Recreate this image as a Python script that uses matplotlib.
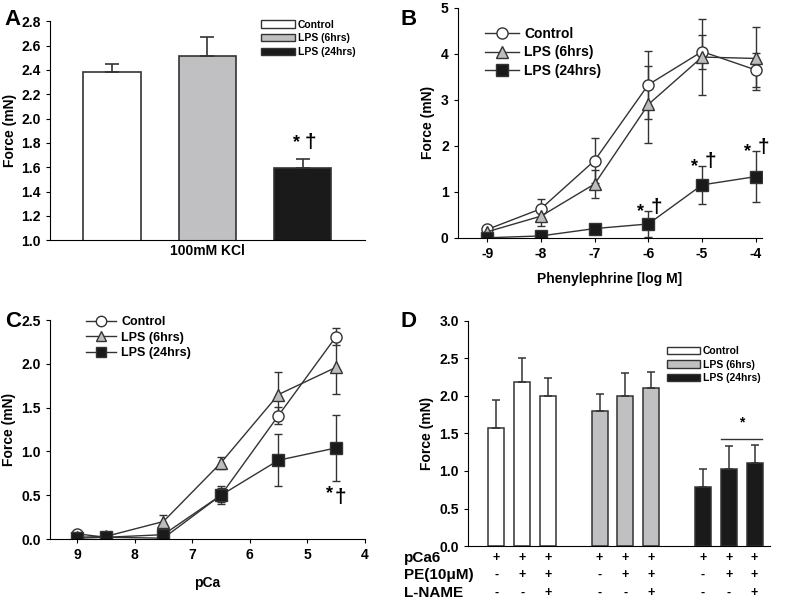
import matplotlib.pyplot as plt
import numpy as np
from matplotlib.patches import Patch
from matplotlib.lines import Line2D

plt.rcParams['font.family'] = ['Liberation Sans', 'DejaVu Sans']
plt.rcParams['font.weight'] = 'bold'
plt.rcParams['axes.labelweight'] = 'bold'
plt.rcParams['axes.unicode_minus'] = False

# panel A
a_groups = ['Control', 'LPS (6hrs)', 'LPS (24hrs)']
a_vals = [2.38, 2.51, 1.59]
a_err = [0.07, 0.16, 0.08]

# panel B
b_x = [-9, -8, -7, -6, -5, -4]
b_ctrl = [0.18, 0.63, 1.68, 3.33, 4.05, 3.65]
b_ctrl_err = [0.03, 0.22, 0.48, 0.74, 0.37, 0.37]
b_lps6 = [0.13, 0.47, 1.17, 2.90, 3.93, 3.90]
b_lps6_err = [0.03, 0.22, 0.30, 0.84, 0.82, 0.68]
b_lps24 = [0.0, 0.04, 0.20, 0.30, 1.15, 1.33]
b_lps24_err = [0.0, 0.02, 0.03, 0.28, 0.42, 0.56]

# panel C
c_x = [9, 8.5, 7.5, 6.5, 5.5, 4.5]
c_ctrl = [0.06, 0.02, 0.01, 0.50, 1.41, 2.31]
c_ctrl_err = [0.01, 0.01, 0.01, 0.08, 0.10, 0.10]
c_lps6 = [0.02, 0.03, 0.20, 0.87, 1.65, 1.96]
c_lps6_err = [0.01, 0.02, 0.08, 0.07, 0.26, 0.30]
c_lps24 = [0.01, 0.02, 0.05, 0.50, 0.90, 1.04]
c_lps24_err = [0.01, 0.01, 0.03, 0.10, 0.30, 0.38]

# panel D
d_ctrl = [1.57, 2.19, 2.00]
d_ctrl_err = [0.38, 0.31, 0.24]
d_lps6 = [1.80, 2.00, 2.10]
d_lps6_err = [0.22, 0.30, 0.22]
d_lps24 = [0.78, 1.03, 1.10]
d_lps24_err = [0.24, 0.30, 0.24]
d_rows = ['pCa6', 'PE(10\u03bcM)', 'L-NAME']
d_signs = [['+', '+', '+'], ['-', '+', '+'], ['-', '-', '+']]

colors = ['white', '#c0c0c2', '#1a1a1a']
fs = 10

fig = plt.figure(figsize=(7.85, 6.05), dpi=100)

def style(ax):
    for s in ['top', 'right']:
        ax.spines[s].set_visible(False)
    ax.tick_params(direction='out', length=3, labelsize=fs, width=0.8)
    for lab in ax.get_xticklabels() + ax.get_yticklabels():
        lab.set_fontweight('bold')

# ---- A
axA = fig.add_axes([0.0637, 0.603, 0.401, 0.362])
pos = np.arange(3)
axA.bar(pos, a_vals, width=0.6, color=colors, edgecolor='#333333', linewidth=1.2,
        yerr=[[0, 0, 0], a_err], error_kw=dict(ecolor='#333333', capsize=5, elinewidth=1.2, capthick=1.2))
axA.set_ylim(1.0, 2.8)
axA.set_xlim(-0.65, 2.65)
axA.set_yticks(np.arange(1.0, 2.81, 0.2))
axA.set_yticklabels(['%.1f' % v for v in np.arange(1.0, 2.81, 0.2)])
axA.set_xticks([])
axA.set_xlabel('100mM KCl', fontsize=fs, labelpad=3)
axA.set_ylabel('Force (mN)', fontsize=fs, labelpad=3)
axA.text(1.93, 1.8, '*', ha='center', va='center', fontsize=13)
axA.text(2.08, 1.8, '\u2020', ha='center', va='center', fontsize=15)
hA = [Patch(facecolor=c, edgecolor='#333333', label=l) for c, l in zip(colors, a_groups)]
axA.legend(handles=hA, loc='upper right', bbox_to_anchor=(1.0, 1.05), frameon=False, fontsize=7.5,
           handlelength=3.2, handleheight=0.7, labelspacing=0.35, handletextpad=0.3)
style(axA)

# ---- B
def lines(ax, x, ys, errs):
    mk = [('o', 'white'), ('^', '#bdbdbd'), ('s', '#1a1a1a')]
    labels = ['Control', 'LPS (6hrs)', 'LPS (24hrs)']
    for y, e, (m, fc), l in zip(ys, errs, mk, labels):
        ax.errorbar(x, y, yerr=e, marker=m, mfc=fc, mec='#333333', color='#333333', ms=8,
                    lw=1, elinewidth=1, capsize=3, capthick=1, label=l)

def leg(ax, anchor, size, ms):
    h, l = ax.get_legend_handles_labels()
    ax.legend([Line2D([0], [0], marker=hh[0].get_marker(), mfc=hh[0].get_markerfacecolor(), mec='#333333',
                      color='#333333', ms=ms, lw=1) for hh in h], l,
              loc='upper left', bbox_to_anchor=anchor, frameon=False, fontsize=size,
              handlelength=2.4, labelspacing=0.3, handletextpad=0.4)

axB = fig.add_axes([0.583, 0.607, 0.388, 0.380])
lines(axB, b_x, [b_ctrl, b_lps6, b_lps24], [b_ctrl_err, b_lps6_err, b_lps24_err])
axB.set_xlim(-9.55, -3.88)
axB.set_ylim(0, 5)
axB.set_xticks(b_x)
axB.set_yticks(range(6))
axB.set_xlabel('Phenylephrine [log M]', fontsize=fs, labelpad=8)
axB.set_ylabel('Force (mN)', fontsize=fs)
for xx, yy, ee in zip(b_x[3:], b_lps24[3:], b_lps24_err[3:]):
    axB.text(xx - 0.15, yy + ee - 0.02, '*', ha='center', va='center', fontsize=13)
    axB.text(xx + 0.15, yy + ee + 0.08, '\u2020', ha='center', va='center', fontsize=15)
leg(axB, (0.05, 0.97), fs, 8)
style(axB)

# ---- C
axC = fig.add_axes([0.0637, 0.109, 0.401, 0.362])
lines(axC, c_x, [c_ctrl, c_lps6, c_lps24], [c_ctrl_err, c_lps6_err, c_lps24_err])
axC.set_xlim(9.47, 4)
axC.set_ylim(0, 2.5)
axC.set_xticks([9, 8, 7, 6, 5, 4])
axC.set_yticks(np.arange(0, 2.51, 0.5))
axC.set_yticklabels(['%.1f' % v for v in np.arange(0, 2.51, 0.5)])
axC.set_xlabel('pCa', fontsize=fs, labelpad=10)
axC.set_ylabel('Force (mN)', fontsize=fs)
axC.text(4.62, 0.52, '*', ha='center', va='center', fontsize=13)
axC.text(4.42, 0.48, '\u2020', ha='center', va='center', fontsize=15)
leg(axC, (0.08, 1.07), 9, 7.5)
style(axC)

# ---- D
axD = fig.add_axes([0.596, 0.0975, 0.385, 0.372])
for g, (vals, errs) in enumerate([(d_ctrl, d_ctrl_err), (d_lps6, d_lps6_err), (d_lps24, d_lps24_err)]):
    p = np.arange(3) + 4 * g
    axD.bar(p, vals, width=0.62, color=colors[g], edgecolor='#333333', linewidth=1.1,
            yerr=[[0, 0, 0], errs], error_kw=dict(ecolor='#333333', capsize=3, elinewidth=1.1, capthick=1.1))
axD.set_xlim(-1.1, 10.6)
axD.set_ylim(0, 3.0)
axD.set_yticks(np.arange(0, 3.01, 0.5))
axD.set_yticklabels(['%.1f' % v for v in np.arange(0, 3.01, 0.5)])
axD.set_xticks([])
axD.set_ylabel('Force (mN)', fontsize=fs)
axD.plot([8.7, 10.3], [1.43, 1.43], color='#333333', lw=1)
axD.text(9.5, 1.65, '*', ha='center', va='center', fontsize=10)
hD = [Patch(facecolor=c, edgecolor='#333333', label=l) for c, l in zip(colors, a_groups)]
axD.legend(handles=hD, loc='upper right', bbox_to_anchor=(1.0, 0.93), frameon=False, fontsize=7.5,
           handlelength=3.2, handleheight=0.7, labelspacing=0.35, handletextpad=0.3)
trD = axD.get_xaxis_transform()
row_y = [-0.053, -0.129, -0.209]
for r, (name, yy) in enumerate(zip(d_rows, row_y)):
    axD.text(-0.21, yy, name, transform=axD.transAxes, ha='left', va='center', fontsize=11)
    for g in range(3):
        for k in range(3):
            axD.text(4 * g + k, yy, d_signs[r][k], transform=trD, ha='center', va='center', fontsize=9)
style(axD)

for lab, (x, y) in zip('ABCD', [(0.006, 0.968), (0.51, 0.968), (0.006, 0.468), (0.51, 0.468)]):
    fig.text(x, y, lab, fontsize=16, fontweight='bold', va='center')

fig.savefig('out.png', dpi=100)
